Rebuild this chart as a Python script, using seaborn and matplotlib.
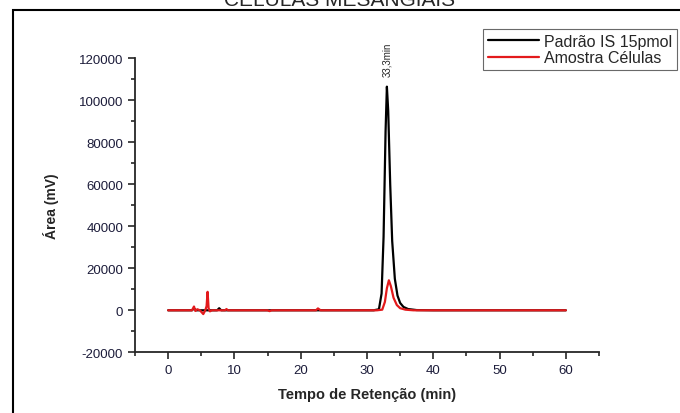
import matplotlib
matplotlib.use("Agg")
import matplotlib.pyplot as plt
from matplotlib.patches import Rectangle
from matplotlib.ticker import MultipleLocator
import seaborn as sns
import pandas as pd

# Padrão IS 15pmol (black trace)
tempo_padrao = [0, 3.6, 3.9, 4.2, 7.4, 7.7, 8.0, 31.0, 31.8, 32.2, 32.5, 32.8, 33.0,
                33.2, 33.5, 33.8, 34.2, 34.6, 35.0, 35.5, 36.2, 37.5, 40.0, 60.0]
area_padrao = [0, 0, 900, 0, 0, 1000, 0, 0, 500, 8000, 35000, 85000, 106500,
               95000, 60000, 33000, 15000, 7000, 3500, 1600, 600, 100, 0, 0]

# Amostra Células (red trace)
tempo_amostra = [0, 3.6, 3.9, 4.1, 4.4, 4.8, 5.3, 5.6, 5.8, 5.95, 6.1, 6.3, 6.6, 8.6,
                 8.8, 9.0, 15.0, 15.3, 15.6, 22.3, 22.6, 23.0, 31.5, 32.3, 32.7, 33.0,
                 33.3, 33.6, 34.0, 34.5, 35.0, 35.8, 37.0, 60.0]
area_amostra = [0, 0, 1800, -300, 500, 0, -1800, 0, 2000, 8800, 1000, -500, 0, 0,
                600, 0, 0, -400, 0, 0, 900, 0, 0, 300, 4000, 10500,
                14300, 11500, 6000, 2500, 1000, 300, 0, 0]

series = ["Padrão IS 15pmol", "Amostra Células"]
cores = {"Padrão IS 15pmol": "black", "Amostra Células": "#e31a1c"}

df = pd.concat([
    pd.DataFrame({"tempo": tempo_padrao, "area": area_padrao, "serie": series[0]}),
    pd.DataFrame({"tempo": tempo_amostra, "area": area_amostra, "serie": series[1]}),
])

sns.set_style("ticks")
plt.rcParams["font.family"] = ["Liberation Sans", "DejaVu Sans"]
plt.rcParams["axes.unicode_minus"] = False

fig = plt.figure(figsize=(6.8, 4.14), dpi=100)
ax = fig.add_axes([135 / 680, 60.7 / 414, 464 / 680, 294 / 414])

sns.lineplot(data=df, x="tempo", y="area", hue="serie", hue_order=series,
             palette=cores, estimator=None, sort=False, linewidth=1.6, ax=ax)

ax.set_xlim(-5, 65)
ax.set_ylim(-20000, 120000)
ax.xaxis.set_major_locator(MultipleLocator(10))
ax.xaxis.set_minor_locator(MultipleLocator(5))
ax.yaxis.set_major_locator(MultipleLocator(20000))
ax.yaxis.set_minor_locator(MultipleLocator(10000))
ax.tick_params(which="major", length=5, width=1.2, labelsize=9.5,
               labelcolor="#1c1c3a", direction="out")
ax.tick_params(which="minor", length=3, width=1.2, direction="out")
for s in ["left", "bottom"]:
    ax.spines[s].set_linewidth(1.3)
sns.despine(ax=ax)

ax.set_xlabel("Tempo de Retenção (min)", fontsize=10.5, fontweight="bold", labelpad=8)
ax.set_ylabel("Área (mV)", fontsize=10, fontweight="bold", labelpad=14)

ax.text(33, 111500, "33,3min", rotation=90, ha="center", va="bottom", fontsize=7)

handles, labels = ax.get_legend_handles_labels()
ax.legend(handles, labels, loc="upper left", bbox_to_anchor=(483 / 680, 1 - 30 / 414),
          bbox_transform=fig.transFigure, frameon=True, fancybox=False,
          edgecolor="#444444", fontsize=11.5, borderpad=0.3, handlelength=3.2,
          handletextpad=0.3, labelspacing=0.1, borderaxespad=0)
ax.get_legend().get_frame().set_linewidth(0.8)

# outer frame and clipped title, as in the source image
fig.patches.append(Rectangle((13 / 680, -0.1), 1.0, 1.1 - 11 / 414, transform=fig.transFigure,
                             fill=False, edgecolor="black", linewidth=1.5))
fig.text(0.5, 1 - 6 / 414, "CÉLULAS MESANGIAIS", ha="center", va="baseline", fontsize=15)

fig.savefig("out.png", dpi=100)
